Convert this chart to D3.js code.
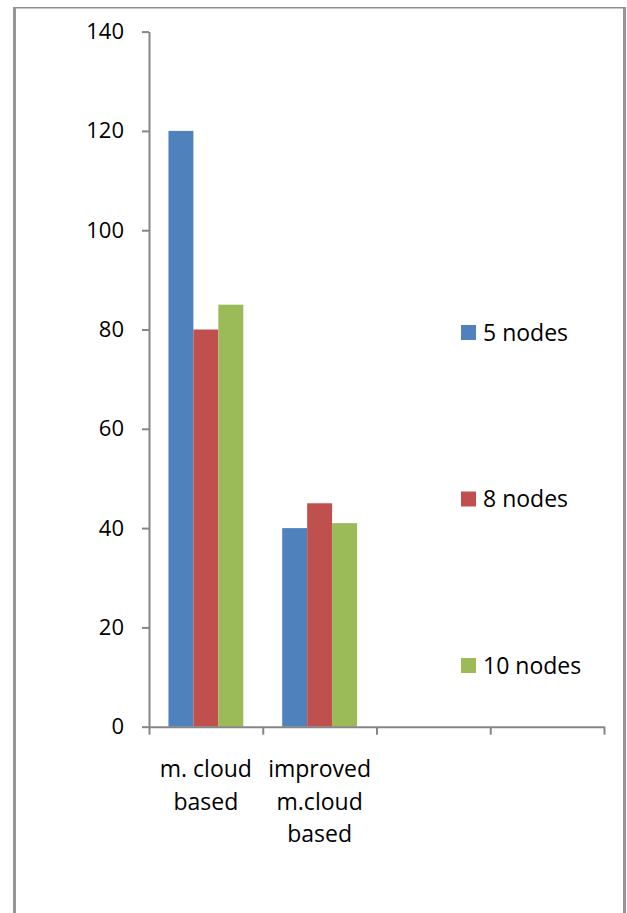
<!DOCTYPE html>
<html>
<head>
<meta charset="utf-8">
<script src="https://cdn.jsdelivr.net/npm/d3@7"></script>
<style>
  html, body { margin: 0; padding: 0; background: #fff; }
  svg { display: block; }
  text { font-family: "Open Sans", "Noto Sans", sans-serif; fill: #000; }
</style>
</head>
<body>
<svg id="chart" width="627" height="913"></svg>
<script>
// Categories (two trailing empty slots keep the axis width of four groups)
const categories = ["m. cloud based", "improved m.cloud based", "", ""];
const categoryLines = [["m. cloud", "based"], ["improved", "m.cloud", "based"], [], []];
const seriesNames = ["5 nodes", "8 nodes", "10 nodes"];
const seriesColors = ["#4F81BD", "#C0504D", "#9BBB59"];
// values per series, one per category (null = no bar)
const values5 = [120, 40, null, null];
const values8 = [80, 45, null, null];
const values10 = [85, 41, null, null];
const yTicks = [0, 20, 40, 60, 80, 100, 120, 140];

const seriesValues = [values5, values8, values10];

const svg = d3.select("#chart");
const axisColor = "#868686";

// outer frame
const frame = svg.append("g");
frame.append("line").attr("x1", 14).attr("x2", 625).attr("y1", 7.75).attr("y2", 7.75)
  .attr("stroke", "#8f8f8f").attr("stroke-width", 1.5);
frame.append("line").attr("x1", 14.5).attr("x2", 14.5).attr("y1", 7).attr("y2", 913)
  .attr("stroke", "#969696").attr("stroke-width", 3);
frame.append("line").attr("x1", 624.5).attr("x2", 624.5).attr("y1", 7).attr("y2", 913)
  .attr("stroke", "#969696").attr("stroke-width", 3);

const plotLeft = 149, plotRight = 604, plotTop = 31.6, plotBottom = 726.7;

const y = d3.scaleLinear().domain([0, 140]).range([plotBottom, plotTop]);
const x0 = d3.scaleBand().domain(d3.range(categories.length)).range([plotLeft, plotRight]).padding(0);
const x1 = d3.scaleBand().domain(d3.range(seriesNames.length))
  .range([0, x0.bandwidth()]).paddingInner(0).paddingOuter(0.78);

// bars
const barData = [];
categories.forEach((c, ci) => {
  seriesValues.forEach((vals, si) => {
    if (vals[ci] != null) barData.push({ ci, si, v: vals[ci] });
  });
});
svg.append("g").selectAll("rect").data(barData).join("rect")
  .attr("x", d => x0(d.ci) + x1(d.si))
  .attr("y", d => y(d.v))
  .attr("width", x1.bandwidth())
  .attr("height", d => y(0) - y(d.v))
  .attr("fill", d => seriesColors[d.si]);

// y axis
const yAxis = svg.append("g").attr("transform", `translate(${plotLeft},0)`)
  .call(d3.axisLeft(y).tickValues(yTicks).tickSize(7).tickSizeOuter(0).tickPadding(18));
yAxis.select(".domain").attr("stroke", axisColor).attr("stroke-width", 2);
yAxis.selectAll(".tick line").attr("stroke", axisColor).attr("stroke-width", 2);
yAxis.selectAll(".tick text").attr("font-size", 22).attr("fill", "#000")
  .attr("font-family", "Open Sans, Noto Sans, sans-serif");

// x axis: ticks at category boundaries
const xb = d3.scaleLinear().domain([0, categories.length]).range([plotLeft, plotRight]);
const xAxis = svg.append("g").attr("transform", `translate(0,${plotBottom})`)
  .call(d3.axisBottom(xb).tickValues(d3.range(categories.length + 1)).tickSize(8).tickSizeOuter(0).tickFormat(""));
xAxis.select(".domain").attr("stroke", axisColor).attr("stroke-width", 2);
xAxis.selectAll(".tick line").attr("stroke", axisColor).attr("stroke-width", 2);

// category labels
const catLabels = svg.append("g");
categoryLines.forEach((lines, ci) => {
  const t = catLabels.append("text")
    .attr("x", x0(ci) + x0.bandwidth() / 2)
    .attr("y", 777)
    .attr("text-anchor", "middle")
    .attr("font-size", 23);
  lines.forEach((ln, li) => {
    t.append("tspan").attr("x", x0(ci) + x0.bandwidth() / 2)
      .attr("dy", li === 0 ? 0 : 32.5).text(ln);
  });
});

// legend
const legend = svg.append("g").selectAll("g").data(seriesNames).join("g")
  .attr("transform", (d, i) => `translate(461,${332.5 + i * 166.5})`);
legend.append("rect").attr("x", 0).attr("y", -7.5).attr("width", 15).attr("height", 15)
  .attr("fill", (d, i) => seriesColors[i]);
legend.append("text").attr("x", 22).attr("y", 0).attr("dy", "0.35em")
  .attr("font-size", 23).text(d => d);
</script>
</body>
</html>
